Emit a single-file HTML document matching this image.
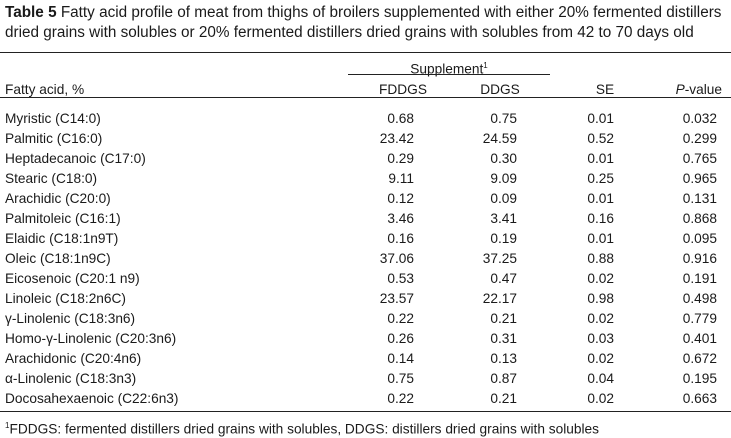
<!DOCTYPE html>
<html><head><meta charset="utf-8"><style>
body{margin:0;background:#fff;width:731px;height:438px;overflow:hidden;font-family:"Liberation Sans",Arial,sans-serif;color:#1a1a1a;position:relative}
.t{position:absolute;white-space:nowrap;font-size:13.7px;line-height:16px}
.r{text-align:right}
.c{text-align:center}
.line{position:absolute;height:1px;background:#222}
</style></head><body>
<div class="t" style="left:5px;top:3px;font-size:15.3px;line-height:20px"><b>Table 5</b> Fatty acid profile of meat from thighs of broilers supplemented with either 20% fermented distillers<br>dried grains with solubles or 20% fermented distillers dried grains with solubles from 42 to 70 days old</div>
<div class="line" style="left:0;top:52px;width:731px"></div>
<div class="t c" style="left:349px;width:200px;top:58px">Supplement<sup style="font-size:8px">1</sup></div>
<div class="line" style="left:348px;top:74px;width:202px"></div>
<div class="t" style="left:5px;top:82px">Fatty acid, %</div>
<div class="t c" style="left:363px;width:80px;top:82px">FDDGS</div>
<div class="t c" style="left:460px;width:80px;top:82px">DDGS</div>
<div class="t c" style="left:565px;width:80px;top:82px">SE</div>
<div class="t r" style="left:620px;width:102px;top:82px"><i>P</i>-value</div>
<div class="line" style="left:0;top:97px;width:731px"></div>
<div id="rows"></div>
<div class="line" style="left:0;top:411px;width:731px"></div>
<div class="t" style="left:5px;top:418px"><sup style="font-size:8px">1</sup>FDDGS: fermented distillers dried grains with solubles, DDGS: distillers dried grains with solubles</div>
<script>
var d=[["Myristic (C14:0)","0.68","0.75","0.01","0.032"],["Palmitic (C16:0)","23.42","24.59","0.52","0.299"],["Heptadecanoic (C17:0)","0.29","0.30","0.01","0.765"],["Stearic (C18:0)","9.11","9.09","0.25","0.965"],["Arachidic (C20:0)","0.12","0.09","0.01","0.131"],["Palmitoleic (C16:1)","3.46","3.41","0.16","0.868"],["Elaidic (C18:1n9T)","0.16","0.19","0.01","0.095"],["Oleic (C18:1n9C)","37.06","37.25","0.88","0.916"],["Eicosenoic (C20:1 n9)","0.53","0.47","0.02","0.191"],["Linoleic (C18:2n6C)","23.57","22.17","0.98","0.498"],["γ-Linolenic (C18:3n6)","0.22","0.21","0.02","0.779"],["Homo-γ-Linolenic (C20:3n6)","0.26","0.31","0.03","0.401"],["Arachidonic (C20:4n6)","0.14","0.13","0.02","0.672"],["α-Linolenic (C18:3n3)","0.75","0.87","0.04","0.195"],["Docosahexaenoic (C22:6n3)","0.22","0.21","0.02","0.663"]];
var h="",R=[414,517,614,717];
d.forEach(function(r,i){var y=111+i*20.0;
h+='<div class="t" style="left:5px;top:'+y+'px">'+r[0]+'</div>';
for(var j=1;j<5;j++)h+='<div class="t r" style="left:'+(R[j-1]-100)+'px;width:100px;top:'+y+'px">'+r[j]+'</div>';});
document.getElementById("rows").innerHTML=h;
</script>
</body></html>
